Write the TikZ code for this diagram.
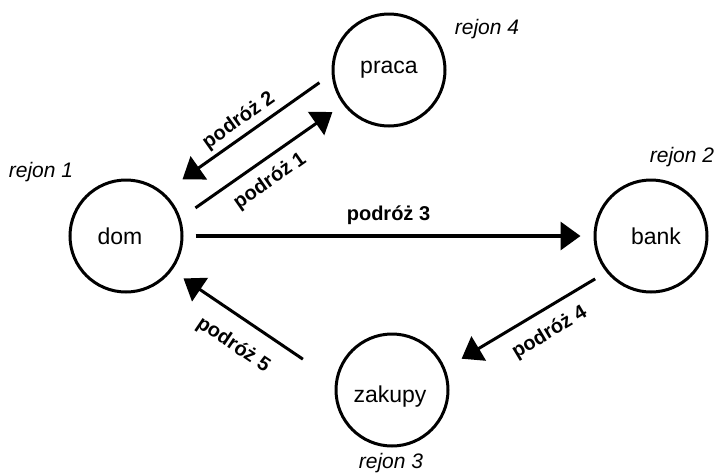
\documentclass[tikz,border=0pt]{standalone}
\usepackage{fontspec}
\setmainfont{Liberation Sans}
\usetikzlibrary{arrows.meta}
\begin{document}
\begin{tikzpicture}[x=1pt,y=-1pt,
    place/.style={circle,draw,line width=3pt,minimum size=112pt,inner sep=0pt},
    placename/.style={font=\fontsize{23}{27}\selectfont},
    region/.style={font=\fontsize{21}{25}\selectfont\itshape},
    trip/.style={line width=3pt,-{Triangle[length=20pt,width=28pt]}},
    triplabel/.style={font=\fontsize{20}{24}\selectfont\bfseries,inner sep=1pt,sloped}]
  \useasboundingbox (0,0) rectangle (718,472);

  \foreach \name/\x/\y/\dx/\dy in {dom/126/236/-6/0, praca/389/70/0/0,
      bank/651/236/5/0, zakupy/392/390/-2/7}
  {
    \node[place] (\name) at (\x,\y) {};
    \node[placename] (\name-txt) at ([shift={(\dx,\dy)}]\name.center) {\name};
  }

  \foreach \x/\y/\nr in {41/172/1, 682/157/2, 391/463/3, 487/29/4}
    \node[region] (rejon\nr) at (\x,\y) {rejon \nr};

  % trips between the places
  \draw[trip,shorten <=18pt,shorten >=13pt] (dom.18) -- (praca.217)
    node[triplabel,pos=0.476,below=9pt] (p1) {podróż 1};
  \draw[trip,shorten <=15pt,shorten >=23pt] (praca.184) -- (dom.49)
    node[triplabel,pos=0.5,above=3.5pt] (p2) {podróż 2};
  \draw[trip,line width=3.5pt,shorten <=12pt,shorten >=13pt] (dom.east) -- (bank.west)
    node[triplabel,pos=0.5,above=8.5pt] (p3) {podróż 3};
  \draw[trip,shorten <=13pt,shorten >=19pt] (bank.219) -- (zakupy.22)
    node[triplabel,pos=0.425,below=11pt] (p4) {podróż 4};
  \draw[trip,shorten <=39pt,shorten >=14pt] (zakupy.171) -- (dom.323)
    node[triplabel,pos=0.531,below=15.5pt] (p5) {podróż 5};
\end{tikzpicture}
\end{document}
